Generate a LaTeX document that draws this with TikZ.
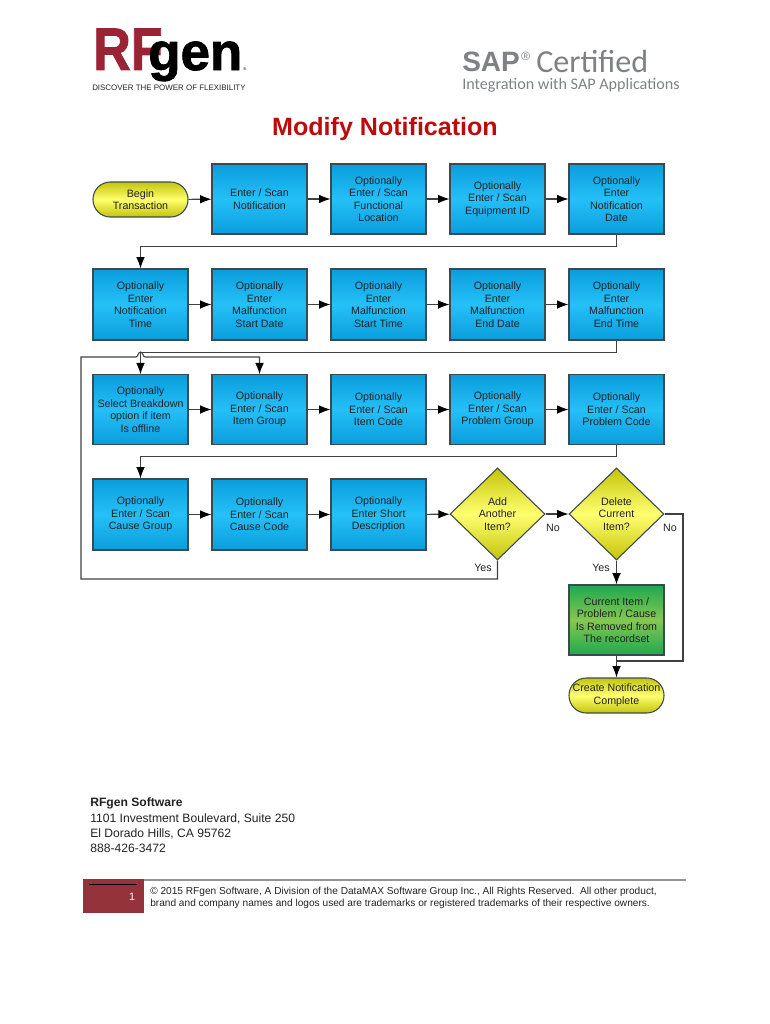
\documentclass[tikz,border=0pt]{standalone}
\usepackage{graphicx}
\usepackage{fontspec}
\setmainfont{Liberation Sans}
\newfontfamily\thinfont{Carlito}
\newfontfamily\heavyfont[FakeBold=1.6]{Liberation Sans Bold}
\usetikzlibrary{shapes.geometric,arrows.meta}
\definecolor{boxline}{HTML}{3A4A50}
\definecolor{txt}{HTML}{222222}
\definecolor{conn}{HTML}{404040}
\definecolor{rfred}{HTML}{9A2436}
\definecolor{sapgrey}{HTML}{7E8285}
\definecolor{titlered}{HTML}{BE0A0A}
\definecolor{pagered}{HTML}{94343A}
\definecolor{blue1}{HTML}{0A9DDD}
\definecolor{blue2}{HTML}{25C0F8}
\definecolor{yel1}{HTML}{C4C40A}
\definecolor{yel2}{HTML}{FFFF70}
\definecolor{green1}{HTML}{1FA850}
\definecolor{green2}{HTML}{84C850}
\tikzset{
  flow/.style={draw=boxline,line width=0.8pt,text=txt,font=\fontsize{8}{9.4}\selectfont,align=center,inner sep=0pt},
  bluebox/.style={flow,rectangle,minimum width=71.25pt,top color=blue1,bottom color=blue1,middle color=blue2},
  greenbox/.style={flow,rectangle,minimum width=71.25pt,minimum height=52.5pt,top color=green1,bottom color=green1,middle color=green2},
  termbox/.style={flow,rectangle,rounded corners=13pt,minimum width=71.25pt,minimum height=26.25pt,top color=yel1,bottom color=yel1,middle color=yel2},
  decbox/.style={flow,diamond,minimum width=71.25pt,minimum height=69pt,aspect=1,top color=yel1,bottom color=yel1,middle color=yel2},
  rowa/.style={bluebox,minimum height=52.5pt},
  rowb/.style={bluebox,minimum height=53.25pt},
  rowc/.style={bluebox,minimum height=52pt},
  rowd/.style={bluebox,minimum height=53.25pt},
  link/.style={draw=conn,line width=0.8pt,-{Latex[length=8.5pt,width=6.5pt,black]}},
  plainlink/.style={draw=conn,line width=0.8pt},
  lab/.style={font=\fontsize{8}{9.4}\selectfont,text=txt,inner sep=0pt},
  addr/.style={anchor=west,inner sep=0pt,font=\fontsize{9.1}{11}\selectfont,text=txt},
  legal/.style={anchor=west,inner sep=0pt,text=txt,font=\fontsize{7.6}{9}\selectfont},
}
\begin{document}
\begin{tikzpicture}[x=0.75pt,y=-0.75pt]
\useasboundingbox (0,0) rectangle (770,1024);
% logos
\node[anchor=base west,inner sep=0pt,text=rfred] (rf) at (93,70) {\resizebox{52pt}{31pt}{\heavyfont RF}};
\node[anchor=base west,inner sep=0pt,text=black] (gen) at (148,70) {\resizebox{70.5pt}{!}{\heavyfont gen}};
\node[anchor=base west,inner sep=0pt,font=\fontsize{3}{3}\selectfont] (reg) at (243,71) {®};
\node[anchor=west,inner sep=0pt,text=txt] (tag) at (92,88) {\resizebox{115pt}{!}{DISCOVER THE POWER OF FLEXIBILITY}};
\node[anchor=base west,inner sep=0pt,text=sapgrey,font=\bfseries\fontsize{21}{21}\selectfont] (sap) at (462,72) {SAP};
\node[anchor=base west,inner sep=0pt,text=sapgrey,font=\fontsize{9}{9}\selectfont] (sapr) at (521,61) {®};
\node[anchor=base west,inner sep=0pt,text=sapgrey] (cert) at (536,72) {\resizebox{84pt}{!}{\thinfont Certified}};
\node[anchor=west,inner sep=0pt,text=sapgrey] (integ) at (462,85) {\resizebox{163pt}{!}{\thinfont Integration with SAP Applications}};
\node[inner sep=0pt,text=titlered,font=\bfseries\fontsize{18.8}{22}\selectfont] (title) at (385,129) {Modify Notification};
% row 1
\node[termbox] (begin) at (140.5,199.5) {Begin\\Transaction};
\node[rowa] (a2) at (259.5,199) {Enter / Scan\\Notification};
\node[rowa] (a3) at (378.5,199) {Optionally\\Enter / Scan\\Functional\\Location};
\node[rowa] (a4) at (497.5,199) {Optionally\\Enter / Scan\\Equipment ID};
\node[rowa] (a5) at (616.5,199) {Optionally\\Enter\\Notification\\Date};
% row 2
\node[rowb] (b1) at (140.5,304.5) {Optionally\\Enter\\Notification\\Time};
\node[rowb] (b2) at (259.5,304.5) {Optionally\\Enter\\Malfunction\\Start Date};
\node[rowb] (b3) at (378.5,304.5) {Optionally\\Enter\\Malfunction\\Start Time};
\node[rowb] (b4) at (497.5,304.5) {Optionally\\Enter\\Malfunction\\End Date};
\node[rowb] (b5) at (616.5,304.5) {Optionally\\Enter\\Malfunction\\End Time};
% row 3
\node[rowc] (c1) at (140.5,409.5) {Optionally\\Select Breakdown\\option if item\\Is offline};
\node[rowc] (c2) at (259.5,409.5) {Optionally\\Enter / Scan\\Item Group};
\node[rowc] (c3) at (378.5,409.5) {Optionally\\Enter / Scan\\Item Code};
\node[rowc] (c4) at (497.5,409.5) {Optionally\\Enter / Scan\\Problem Group};
\node[rowc] (c5) at (616.5,409.5) {Optionally\\Enter / Scan\\Problem Code};
% row 4
\node[rowd] (d1) at (140.5,514.5) {Optionally\\Enter / Scan\\Cause Group};
\node[rowd] (d2) at (259.5,514.5) {Optionally\\Enter / Scan\\Cause Code};
\node[rowd] (d3) at (378.5,514.5) {Optionally\\Enter Short\\Description};
\node[decbox] (add) at (497.5,514) {Add\\Another\\Item?};
\node[decbox] (del) at (616.5,514) {Delete\\Current\\Item?};
\node[greenbox] (rem) at (616.5,620) {Current Item /\\Problem / Cause\\Is Removed from\\The recordset};
\node[termbox] (done) at (616.5,695.5) {Create Notification\\Complete};
% connectors
\foreach \p/\q in {begin/a2,a2/a3,a3/a4,a4/a5,b1/b2,b2/b3,b3/b4,b4/b5,c1/c2,c2/c3,c3/c4,c4/c5,d1/d2,d2/d3,d3/add,add/del}
  \draw[link] (\p) -- (\q);
\draw[link] (a5.south) -- ++(0,12) -| (b1.north);
\draw[link] (b5.south) -- ++(0,12) -| (c1.north);
\draw[link] (c5.south) -- ++(0,12) -| (d1.north);
\draw[link] (del) -- (rem);
\draw[link] (rem) -- (done);
\coordinate (loopcorner) at (81,579);
\coordinate (looptop) at (81,357);
\coordinate (hopl) at (136,357);
\coordinate (hopr) at (145,357);
\draw[link] (add.south) |- (loopcorner) -- (looptop) -- (hopl)
   .. controls (138,357) and (138,352) .. (140.5,352) .. controls (143,352) and (143,357) .. (hopr) -| (c2.north);
\coordinate (backjoin) at (616.5,661);
\draw[plainlink] (del.east) -- (683,514) -- (683,661) -- (backjoin);
% labels
\node[lab] (no1) at (553,528) {No};
\node[lab] (yes1) at (483,568) {Yes};
\node[lab] (no2) at (670,528) {No};
\node[lab] (yes2) at (601,568) {Yes};
% address
\node[addr,font=\fontsize{9.1}{11}\selectfont\bfseries] (addr1) at (90,803.5) {RFgen Software};
\node[addr] (addr2) at (90,818.5) {1101 Investment Boulevard, Suite 250};
\node[addr] (addr3) at (90,833.5) {El Dorado Hills, CA 95762};
\node[addr] (addr4) at (90,848.5) {888-426-3472};
% footer
\fill[fill=black!42] (144,878.5) rectangle (686,880.5);
\fill[fill=pagered] (83,879) rectangle (144,913);
\draw[black,line width=0.6pt] (89,884) -- (137,884);
\node[inner sep=0pt,text=white,font=\fontsize{8}{9}\selectfont] (pagenum) at (132,897) {1};
\node[legal] (legala) at (150,891.5) {© 2015 RFgen Software, A Division of the DataMAX Software Group Inc., All Rights Reserved.\ \ All other product,};
\node[legal] (legalb) at (150,903.5) {brand and company names and logos used are trademarks or registered trademarks of their respective owners.};
\end{tikzpicture}
\end{document}
